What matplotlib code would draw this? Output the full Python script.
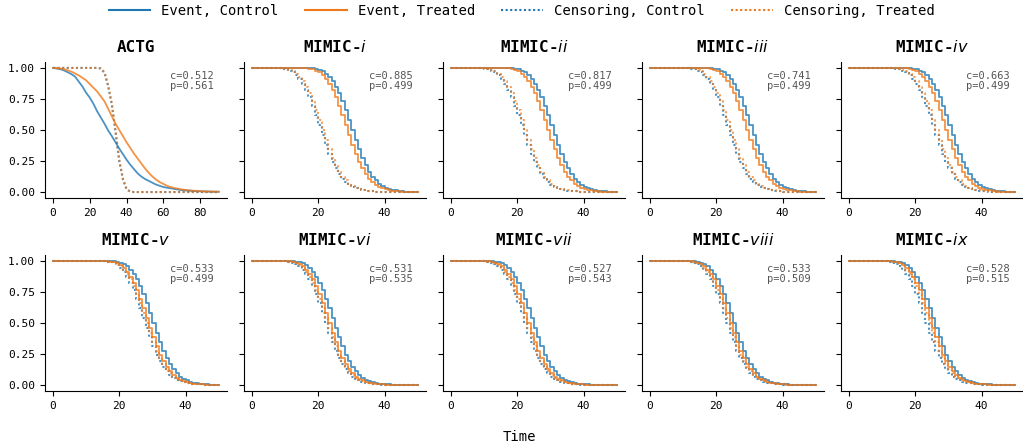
import numpy as np
import matplotlib
matplotlib.use('Agg')
import matplotlib.pyplot as plt
from matplotlib.lines import Line2D

plt.rcParams['font.family'] = 'DejaVu Sans Mono'
plt.rcParams['mathtext.fontset'] = 'dejavusans'

# ---- data (survival, in %) ----
titles = ['ACTG', 'MIMIC-$\\mathit{i}$', 'MIMIC-$\\mathit{ii}$', 'MIMIC-$\\mathit{iii}$', 'MIMIC-$\\mathit{iv}$',
          'MIMIC-$\\mathit{v}$', 'MIMIC-$\\mathit{vi}$', 'MIMIC-$\\mathit{vii}$', 'MIMIC-$\\mathit{viii}$',
          'MIMIC-$\\mathit{ix}$']
c_index = [0.512, 0.885, 0.817, 0.741, 0.663, 0.533, 0.531, 0.527, 0.533, 0.528]
p_value = [0.561, 0.499, 0.499, 0.499, 0.499, 0.499, 0.535, 0.543, 0.509, 0.515]

t_actg = np.arange(0, 92, 2)
actg_event_ctrl = [100, 99.5, 99, 98, 96.5, 95, 93, 89, 85, 80, 76, 71, 65, 60, 55, 49.5, 45, 40, 35, 30.5, 26, 22,
                   18.5, 15, 12.5, 10.5, 9, 7.5, 6, 5, 4, 3.5, 3, 2.5, 2, 1.6, 1.3, 1.1, 0.9, 0.7, 0.6, 0.5, 0.4,
                   0.3, 0.3, 0.2]
actg_event_trt = [100, 99.8, 99.5, 99, 98, 97, 95.5, 94, 92, 90, 87, 84, 81, 77, 73, 67, 61, 55, 50, 45, 40, 35.5,
                  31, 27, 23, 19, 15.5, 12.5, 10, 8, 6.5, 5, 4, 3.2, 2.6, 2.1, 1.7, 1.4, 1.1, 0.9, 0.7, 0.6, 0.5,
                  0.4, 0.3, 0.3]
actg_cens_ctrl = [100, 100, 100, 100, 100, 100, 100, 100, 100, 100, 100, 100, 100,
                  99.5, 96, 85, 70, 48, 25, 10, 2, 0.3,
                  0, 0, 0, 0, 0, 0, 0, 0, 0, 0, 0, 0, 0, 0, 0, 0, 0, 0, 0, 0, 0, 0, 0, 0]
actg_cens_trt = [100, 100, 100, 100, 100, 100, 100, 100, 100, 100, 100, 100, 100,
                 99.6, 96.5, 86, 71, 49, 26, 11, 2.5, 0.4,
                 0, 0, 0, 0, 0, 0, 0, 0, 0, 0, 0, 0, 0, 0, 0, 0, 0, 0, 0, 0, 0, 0, 0, 0]

t_mimic = np.arange(0, 51)

# MIMIC-i
i_event_ctrl = [100, 100, 100, 100, 100, 100, 100, 100, 100, 100, 100, 100, 100, 100, 100, 100,
                100, 99.8, 99.6, 99.2, 98.5, 97.3, 95.5, 93, 89.5, 85, 79.5, 73, 66, 58, 50, 42, 34.5, 27.5, 21.5,
                16.5, 12.5, 9.3, 6.8, 5, 3.6, 2.6, 1.8, 1.3, 0.9, 0.6, 0.4, 0.3, 0.2, 0.1, 0]
i_event_trt = [100, 100, 100, 100, 100, 100, 100, 100, 100, 100, 100, 100, 100, 100, 100,
               99.9, 99.7, 99.4, 98.9, 97.9, 96.4, 94.3, 91.3, 87.3, 82.3, 76.3, 69.5, 62, 54, 46, 38.3, 31, 24.5,
               19, 14.5, 10.9, 8.1, 5.9, 4.3, 3.1, 2.2, 1.6, 1.1, 0.8, 0.5, 0.4, 0.3, 0.2, 0.1, 0, 0]
i_cens_ctrl = [100, 100, 100, 100, 100, 100, 100,
               99.9, 99.7, 99.4, 98.9, 97.9, 96.4, 94.3, 91.3, 87.3, 82.3, 76.3, 69.5, 62, 54, 46, 38.3, 31, 24.5,
               19, 14.5, 10.9, 8.1, 5.9, 4.3, 3.1, 2.2, 1.6, 1.1, 0.8, 0.5, 0.4, 0.3, 0.2, 0.1,
               0, 0, 0, 0, 0, 0, 0, 0, 0, 0]
i_cens_trt = [100, 100, 100, 100, 100, 100, 100,
              100, 99.8, 99.6, 99.2, 98.5, 97.3, 95.5, 93, 89.5, 85, 79.5, 73, 66, 58, 50, 42, 34.5, 27.5, 21.5,
              16.5, 12.5, 9.3, 6.8, 5, 3.6, 2.6, 1.8, 1.3, 0.9, 0.6, 0.4, 0.3, 0.2, 0.1, 0,
              0, 0, 0, 0, 0, 0, 0, 0, 0]

# MIMIC-ii
ii_event_ctrl = [100, 100, 100, 100, 100, 100, 100, 100, 100, 100, 100, 100, 100, 100, 100, 100, 100,
                 99.9, 99.7, 99.4, 98.9, 97.9, 96.4, 94.3, 91.3, 87.3, 82.3, 76.3, 69.5, 62, 54, 46, 38.3, 31,
                 24.5, 19, 14.5, 10.9, 8.1, 5.9, 4.3, 3.1, 2.2, 1.6, 1.1, 0.8, 0.5, 0.4, 0.3, 0.2, 0.1]
ii_event_trt = [100, 100, 100, 100, 100, 100, 100, 100, 100, 100, 100, 100, 100, 100, 100,
                100, 99.8, 99.6, 99.2, 98.5, 97.3, 95.5, 93, 89.5, 85, 79.5, 73, 66, 58, 50, 42, 34.5, 27.5, 21.5,
                16.5, 12.5, 9.3, 6.8, 5, 3.6, 2.6, 1.8, 1.3, 0.9, 0.6, 0.4, 0.3, 0.2, 0.1, 0, 0]
ii_cens_ctrl = [100, 100, 100, 100, 100, 100, 100, 100,
                99.9, 99.7, 99.4, 98.9, 97.9, 96.4, 94.3, 91.3, 87.3, 82.3, 76.3, 69.5, 62, 54, 46, 38.3, 31, 24.5,
                19, 14.5, 10.9, 8.1, 5.9, 4.3, 3.1, 2.2, 1.6, 1.1, 0.8, 0.5, 0.4, 0.3, 0.2, 0.1,
                0, 0, 0, 0, 0, 0, 0, 0, 0]
ii_cens_trt = [100, 100, 100, 100, 100, 100, 100, 100,
               100, 99.8, 99.6, 99.2, 98.5, 97.3, 95.5, 93, 89.5, 85, 79.5, 73, 66, 58, 50, 42, 34.5, 27.5, 21.5,
               16.5, 12.5, 9.3, 6.8, 5, 3.6, 2.6, 1.8, 1.3, 0.9, 0.6, 0.4, 0.3, 0.2, 0.1, 0,
               0, 0, 0, 0, 0, 0, 0, 0]

# MIMIC-iii
iii_event_ctrl = [100, 100, 100, 100, 100, 100, 100, 100, 100, 100, 100, 100, 100, 100, 100, 100, 100,
                  99.9, 99.7, 99.4, 98.9, 97.9, 96.4, 94.3, 91.3, 87.3, 82.3, 76.3, 69.5, 62, 54, 46, 38.3, 31,
                  24.5, 19, 14.5, 10.9, 8.1, 5.9, 4.3, 3.1, 2.2, 1.6, 1.1, 0.8, 0.5, 0.4, 0.3, 0.2, 0.1]
iii_event_trt = [100, 100, 100, 100, 100, 100, 100, 100, 100, 100, 100, 100, 100, 100, 100,
                 100, 99.8, 99.6, 99.2, 98.5, 97.3, 95.5, 93, 89.5, 85, 79.5, 73, 66, 58, 50, 42, 34.5, 27.5, 21.5,
                 16.5, 12.5, 9.3, 6.8, 5, 3.6, 2.6, 1.8, 1.3, 0.9, 0.6, 0.4, 0.3, 0.2, 0.1, 0, 0]
iii_cens_ctrl = [100, 100, 100, 100, 100, 100, 100, 100, 100, 100,
                 99.9, 99.7, 99.4, 98.9, 97.9, 96.4, 94.3, 91.3, 87.3, 82.3, 76.3, 69.5, 62, 54, 46, 38.3, 31,
                 24.5, 19, 14.5, 10.9, 8.1, 5.9, 4.3, 3.1, 2.2, 1.6, 1.1, 0.8, 0.5, 0.4, 0.3, 0.2, 0.1,
                 0, 0, 0, 0, 0, 0, 0]
iii_cens_trt = [100, 100, 100, 100, 100, 100, 100, 100, 100, 100,
                100, 99.8, 99.6, 99.2, 98.5, 97.3, 95.5, 93, 89.5, 85, 79.5, 73, 66, 58, 50, 42, 34.5, 27.5, 21.5,
                16.5, 12.5, 9.3, 6.8, 5, 3.6, 2.6, 1.8, 1.3, 0.9, 0.6, 0.4, 0.3, 0.2, 0.1, 0,
                0, 0, 0, 0, 0, 0]

# MIMIC-iv
iv_event_ctrl = [100, 100, 100, 100, 100, 100, 100, 100, 100, 100, 100, 100, 100, 100, 100, 100, 100,
                 99.9, 99.7, 99.4, 98.9, 97.9, 96.4, 94.3, 91.3, 87.3, 82.3, 76.3, 69.5, 62, 54, 46, 38.3, 31,
                 24.5, 19, 14.5, 10.9, 8.1, 5.9, 4.3, 3.1, 2.2, 1.6, 1.1, 0.8, 0.5, 0.4, 0.3, 0.2, 0.1]
iv_event_trt = [100, 100, 100, 100, 100, 100, 100, 100, 100, 100, 100, 100, 100, 100, 100,
                100, 99.8, 99.6, 99.2, 98.5, 97.3, 95.5, 93, 89.5, 85, 79.5, 73, 66, 58, 50, 42, 34.5, 27.5, 21.5,
                16.5, 12.5, 9.3, 6.8, 5, 3.6, 2.6, 1.8, 1.3, 0.9, 0.6, 0.4, 0.3, 0.2, 0.1, 0, 0]
iv_cens_ctrl = [100, 100, 100, 100, 100, 100, 100, 100, 100, 100, 100, 100,
                99.9, 99.7, 99.4, 98.9, 97.9, 96.4, 94.3, 91.3, 87.3, 82.3, 76.3, 69.5, 62, 54, 46, 38.3, 31,
                24.5, 19, 14.5, 10.9, 8.1, 5.9, 4.3, 3.1, 2.2, 1.6, 1.1, 0.8, 0.5, 0.4, 0.3, 0.2, 0.1,
                0, 0, 0, 0, 0]
iv_cens_trt = [100, 100, 100, 100, 100, 100, 100, 100, 100, 100, 100, 100,
               100, 99.8, 99.6, 99.2, 98.5, 97.3, 95.5, 93, 89.5, 85, 79.5, 73, 66, 58, 50, 42, 34.5, 27.5, 21.5,
               16.5, 12.5, 9.3, 6.8, 5, 3.6, 2.6, 1.8, 1.3, 0.9, 0.6, 0.4, 0.3, 0.2, 0.1, 0,
               0, 0, 0, 0]

# MIMIC-v
v_event_ctrl = [100, 100, 100, 100, 100, 100, 100, 100, 100, 100, 100, 100, 100, 100, 100, 100,
                100, 99.8, 99.6, 99.2, 98.5, 97.3, 95.5, 93, 89.5, 85, 79.5, 73, 66, 58, 50, 42, 34.5, 27.5, 21.5,
                16.5, 12.5, 9.3, 6.8, 5, 3.6, 2.6, 1.8, 1.3, 0.9, 0.6, 0.4, 0.3, 0.2, 0.1, 0]
v_event_trt = [100, 100, 100, 100, 100, 100, 100, 100, 100, 100, 100, 100, 100, 100, 100,
               99.9, 99.7, 99.4, 98.9, 97.9, 96.4, 94.3, 91.3, 87.3, 82.3, 76.3, 69.5, 62, 54, 46, 38.3, 31, 24.5,
               19, 14.5, 10.9, 8.1, 5.9, 4.3, 3.1, 2.2, 1.6, 1.1, 0.8, 0.5, 0.4, 0.3, 0.2, 0.1, 0, 0]
v_cens_ctrl = [100, 100, 100, 100, 100, 100, 100, 100, 100, 100, 100, 100, 100, 100,
               99.9, 99.7, 99.4, 98.9, 97.9, 96.4, 94.3, 91.3, 87.3, 82.3, 76.3, 69.5, 62, 54, 46, 38.3, 31, 24.5,
               19, 14.5, 10.9, 8.1, 5.9, 4.3, 3.1, 2.2, 1.6, 1.1, 0.8, 0.5, 0.4, 0.3, 0.2, 0.1,
               0, 0, 0]
v_cens_trt = [100, 100, 100, 100, 100, 100, 100, 100, 100, 100, 100, 100, 100, 100,
              100, 99.8, 99.6, 99.2, 98.5, 97.3, 95.5, 93, 89.5, 85, 79.5, 73, 66, 58, 50, 42, 34.5, 27.5, 21.5,
              16.5, 12.5, 9.3, 6.8, 5, 3.6, 2.6, 1.8, 1.3, 0.9, 0.6, 0.4, 0.3, 0.2, 0.1, 0,
              0, 0]

# MIMIC-vi
vi_event_ctrl = [100, 100, 100, 100, 100, 100, 100, 100, 100, 100, 100,
                 99.9, 99.7, 99.4, 98.9, 97.9, 96.4, 94.3, 91.3, 87.3, 82.3, 76.3, 69.5, 62, 54, 46, 38.3, 31,
                 24.5, 19, 14.5, 10.9, 8.1, 5.9, 4.3, 3.1, 2.2, 1.6, 1.1, 0.8, 0.5, 0.4, 0.3, 0.2, 0.1,
                 0, 0, 0, 0, 0, 0]
vi_event_trt = [100, 100, 100, 100, 100, 100, 100, 100, 100,
                100, 99.8, 99.6, 99.2, 98.5, 97.3, 95.5, 93, 89.5, 85, 79.5, 73, 66, 58, 50, 42, 34.5, 27.5, 21.5,
                16.5, 12.5, 9.3, 6.8, 5, 3.6, 2.6, 1.8, 1.3, 0.9, 0.6, 0.4, 0.3, 0.2, 0.1, 0,
                0, 0, 0, 0, 0, 0, 0]
vi_cens_ctrl = [100, 100, 100, 100, 100, 100, 100, 100,
                100, 99.8, 99.6, 99.2, 98.5, 97.3, 95.5, 93, 89.5, 85, 79.5, 73, 66, 58, 50, 42, 34.5, 27.5, 21.5,
                16.5, 12.5, 9.3, 6.8, 5, 3.6, 2.6, 1.8, 1.3, 0.9, 0.6, 0.4, 0.3, 0.2, 0.1, 0,
                0, 0, 0, 0, 0, 0, 0, 0]
vi_cens_trt = [100, 100, 100, 100, 100, 100, 100, 100, 100,
               99.9, 99.7, 99.4, 98.9, 97.9, 96.4, 94.3, 91.3, 87.3, 82.3, 76.3, 69.5, 62, 54, 46, 38.3, 31, 24.5,
               19, 14.5, 10.9, 8.1, 5.9, 4.3, 3.1, 2.2, 1.6, 1.1, 0.8, 0.5, 0.4, 0.3, 0.2, 0.1,
               0, 0, 0, 0, 0, 0, 0, 0]

# MIMIC-vii
vii_event_ctrl = [100, 100, 100, 100, 100, 100, 100, 100, 100, 100, 100,
                  99.9, 99.7, 99.4, 98.9, 97.9, 96.4, 94.3, 91.3, 87.3, 82.3, 76.3, 69.5, 62, 54, 46, 38.3, 31,
                  24.5, 19, 14.5, 10.9, 8.1, 5.9, 4.3, 3.1, 2.2, 1.6, 1.1, 0.8, 0.5, 0.4, 0.3, 0.2, 0.1,
                  0, 0, 0, 0, 0, 0]
vii_event_trt = [100, 100, 100, 100, 100, 100, 100, 100, 100,
                 100, 99.8, 99.6, 99.2, 98.5, 97.3, 95.5, 93, 89.5, 85, 79.5, 73, 66, 58, 50, 42, 34.5, 27.5,
                 21.5, 16.5, 12.5, 9.3, 6.8, 5, 3.6, 2.6, 1.8, 1.3, 0.9, 0.6, 0.4, 0.3, 0.2, 0.1, 0,
                 0, 0, 0, 0, 0, 0, 0]
vii_cens_ctrl = [100, 100, 100, 100, 100, 100, 100, 100,
                 100, 99.8, 99.6, 99.2, 98.5, 97.3, 95.5, 93, 89.5, 85, 79.5, 73, 66, 58, 50, 42, 34.5, 27.5,
                 21.5, 16.5, 12.5, 9.3, 6.8, 5, 3.6, 2.6, 1.8, 1.3, 0.9, 0.6, 0.4, 0.3, 0.2, 0.1, 0,
                 0, 0, 0, 0, 0, 0, 0, 0]
vii_cens_trt = [100, 100, 100, 100, 100, 100, 100, 100, 100,
                99.9, 99.7, 99.4, 98.9, 97.9, 96.4, 94.3, 91.3, 87.3, 82.3, 76.3, 69.5, 62, 54, 46, 38.3, 31,
                24.5, 19, 14.5, 10.9, 8.1, 5.9, 4.3, 3.1, 2.2, 1.6, 1.1, 0.8, 0.5, 0.4, 0.3, 0.2, 0.1,
                0, 0, 0, 0, 0, 0, 0, 0]

# MIMIC-viii
viii_event_ctrl = [100, 100, 100, 100, 100, 100, 100, 100, 100, 100, 100,
                   100, 99.8, 99.6, 99.2, 98.5, 97.3, 95.5, 93, 89.5, 85, 79.5, 73, 66, 58, 50, 42, 34.5, 27.5,
                   21.5, 16.5, 12.5, 9.3, 6.8, 5, 3.6, 2.6, 1.8, 1.3, 0.9, 0.6, 0.4, 0.3, 0.2, 0.1, 0,
                   0, 0, 0, 0, 0]
viii_event_trt = [100, 100, 100, 100, 100, 100, 100, 100, 100, 100,
                  100, 99.8, 99.6, 99.2, 98.5, 97.3, 95.5, 93, 89.5, 85, 79.5, 73, 66, 58, 50, 42, 34.5, 27.5,
                  21.5, 16.5, 12.5, 9.3, 6.8, 5, 3.6, 2.6, 1.8, 1.3, 0.9, 0.6, 0.4, 0.3, 0.2, 0.1, 0,
                  0, 0, 0, 0, 0, 0]
viii_cens_ctrl = [100, 100, 100, 100, 100, 100, 100, 100, 100,
                  100, 99.8, 99.6, 99.2, 98.5, 97.3, 95.5, 93, 89.5, 85, 79.5, 73, 66, 58, 50, 42, 34.5, 27.5,
                  21.5, 16.5, 12.5, 9.3, 6.8, 5, 3.6, 2.6, 1.8, 1.3, 0.9, 0.6, 0.4, 0.3, 0.2, 0.1, 0,
                  0, 0, 0, 0, 0, 0, 0]
viii_cens_trt = [100, 100, 100, 100, 100, 100, 100, 100, 100, 100,
                 99.9, 99.7, 99.4, 98.9, 97.9, 96.4, 94.3, 91.3, 87.3, 82.3, 76.3, 69.5, 62, 54, 46, 38.3, 31,
                 24.5, 19, 14.5, 10.9, 8.1, 5.9, 4.3, 3.1, 2.2, 1.6, 1.1, 0.8, 0.5, 0.4, 0.3, 0.2, 0.1,
                 0, 0, 0, 0, 0, 0, 0]

# MIMIC-ix
ix_event_ctrl = [100, 100, 100, 100, 100, 100, 100, 100, 100, 100, 100, 100,
                 99.9, 99.7, 99.4, 98.9, 97.9, 96.4, 94.3, 91.3, 87.3, 82.3, 76.3, 69.5, 62, 54, 46, 38.3, 31,
                 24.5, 19, 14.5, 10.9, 8.1, 5.9, 4.3, 3.1, 2.2, 1.6, 1.1, 0.8, 0.5, 0.4, 0.3, 0.2, 0.1,
                 0, 0, 0, 0, 0]
ix_event_trt = [100, 100, 100, 100, 100, 100, 100, 100, 100, 100, 100,
                99.9, 99.7, 99.4, 98.9, 97.9, 96.4, 94.3, 91.3, 87.3, 82.3, 76.3, 69.5, 62, 54, 46, 38.3, 31,
                24.5, 19, 14.5, 10.9, 8.1, 5.9, 4.3, 3.1, 2.2, 1.6, 1.1, 0.8, 0.5, 0.4, 0.3, 0.2, 0.1,
                0, 0, 0, 0, 0, 0]
ix_cens_ctrl = [100, 100, 100, 100, 100, 100, 100, 100, 100,
                100, 99.8, 99.6, 99.2, 98.5, 97.3, 95.5, 93, 89.5, 85, 79.5, 73, 66, 58, 50, 42, 34.5, 27.5, 21.5,
                16.5, 12.5, 9.3, 6.8, 5, 3.6, 2.6, 1.8, 1.3, 0.9, 0.6, 0.4, 0.3, 0.2, 0.1, 0,
                0, 0, 0, 0, 0, 0, 0]
ix_cens_trt = [100, 100, 100, 100, 100, 100, 100, 100, 100, 100,
               100, 99.8, 99.6, 99.2, 98.5, 97.3, 95.5, 93, 89.5, 85, 79.5, 73, 66, 58, 50, 42, 34.5, 27.5, 21.5,
               16.5, 12.5, 9.3, 6.8, 5, 3.6, 2.6, 1.8, 1.3, 0.9, 0.6, 0.4, 0.3, 0.2, 0.1, 0,
               0, 0, 0, 0, 0, 0]

curves = [
    (actg_event_ctrl, actg_event_trt, actg_cens_ctrl, actg_cens_trt),
    (i_event_ctrl, i_event_trt, i_cens_ctrl, i_cens_trt),
    (ii_event_ctrl, ii_event_trt, ii_cens_ctrl, ii_cens_trt),
    (iii_event_ctrl, iii_event_trt, iii_cens_ctrl, iii_cens_trt),
    (iv_event_ctrl, iv_event_trt, iv_cens_ctrl, iv_cens_trt),
    (v_event_ctrl, v_event_trt, v_cens_ctrl, v_cens_trt),
    (vi_event_ctrl, vi_event_trt, vi_cens_ctrl, vi_cens_trt),
    (vii_event_ctrl, vii_event_trt, vii_cens_ctrl, vii_cens_trt),
    (viii_event_ctrl, viii_event_trt, viii_cens_ctrl, viii_cens_trt),
    (ix_event_ctrl, ix_event_trt, ix_cens_ctrl, ix_cens_trt),
]

blue = '#1f77b4'
orange = '#f07818'
dots = (0, (1, 1.2))

fig, axes = plt.subplots(2, 5, figsize=(10.23, 4.44), dpi=100, sharey=True)
fig.subplots_adjust(left=0.0437, right=1.0, top=0.861, bottom=0.119, wspace=0.092, hspace=0.413)

for k, ax in enumerate(axes.flat):
    ev_c, ev_t, ce_c, ce_t = [np.array(c, dtype=float) / 100 for c in curves[k]]
    if k == 0:
        t = t_actg
        ax.plot(t, ce_c, color=blue, ls=dots, lw=1.5, alpha=0.8)
        ax.plot(t, ce_t, color=orange, ls=dots, lw=1.5, alpha=0.7)
        ax.plot(t, ev_c, color=blue, lw=1.3, alpha=0.8)
        ax.plot(t, ev_t, color=orange, lw=1.3, alpha=0.8)
        ax.set_xticks([0, 20, 40, 60, 80])
    else:
        ax.step(t_mimic[:len(ce_c)], ce_c, where='post', color=blue, ls=dots, lw=1.5, alpha=0.8)
        ax.step(t_mimic[:len(ce_t)], ce_t, where='post', color=orange, ls=dots, lw=1.5, alpha=0.7)
        ax.step(t_mimic[:len(ev_c)], ev_c, where='post', color=blue, lw=1.3, alpha=0.8)
        ax.step(t_mimic[:len(ev_t)], ev_t, where='post', color=orange, lw=1.3, alpha=0.8)
        ax.set_xticks([0, 20, 40])
    ax.set_title(titles[k], fontsize=11.5, fontweight='bold', pad=7)
    ax.text(0.93, 0.93, f'c={c_index[k]:.3f}\np={p_value[k]:.3f}', transform=ax.transAxes,
            ha='right', va='top', fontsize=7.5, color='#555555', linespacing=1.0)
    ax.set_yticks([0, 0.25, 0.5, 0.75, 1.0])
    ax.set_ylim(-0.05, 1.05)
    ax.tick_params(labelsize=8, length=3.5, width=0.8)
    if k % 5 == 0:
        ax.set_yticklabels(['0.00', '0.25', '0.50', '0.75', '1.00'])
    else:
        ax.tick_params(labelleft=False)
    ax.spines['top'].set_visible(False)
    ax.spines['right'].set_visible(False)

handles = [
    Line2D([], [], color=blue, lw=1.5),
    Line2D([], [], color=orange, lw=1.5),
    Line2D([], [], color=blue, lw=1.5, ls=dots),
    Line2D([], [], color=orange, lw=1.5, ls=dots),
]
labels = ['Event, Control', 'Event, Treated', 'Censoring, Control', 'Censoring, Treated']
fig.legend(handles, labels, loc='upper center', bbox_to_anchor=(0.51, 1.02), ncol=4, frameon=False,
           fontsize=10, handlelength=3, columnspacing=1.9, handletextpad=0.8)
fig.text(0.508, 0.0, 'Time', ha='center', va='bottom', fontsize=10)

plt.savefig('out.png', dpi=100)
